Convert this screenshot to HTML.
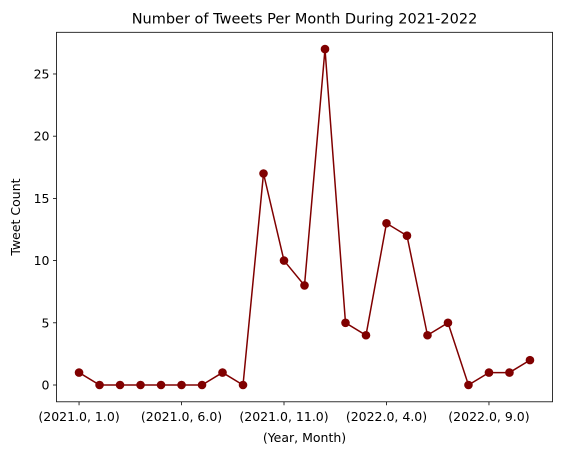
<!DOCTYPE html>
<html><head><meta charset="utf-8"><style>
body{margin:0;background:#fff;}
svg text{font-family:"DejaVu Sans","Liberation Sans",sans-serif;fill:#000;}
</style></head><body>
<svg id="chart" width="562" height="455" xmlns="http://www.w3.org/2000/svg"></svg>
<script>
const counts=[1,0,0,0,0,0,0,1,0,17,10,8,27,5,4,13,12,4,5,0,1,1,2];
const xTickIdx=[0,5,10,15,20];
const xTickLabels=["(2021.0, 1.0)","(2021.0, 6.0)","(2021.0, 11.0)","(2022.0, 4.0)","(2022.0, 9.0)"];
const yTicks=[0,5,10,15,20,25];

const L=56.5,R=552.5,T=32.3,B=401.8;
const xMin=-1.1,xMax=counts.length-1+1.1;
const yMax=Math.max(...counts),yLo=-0.05*yMax,yHi=yMax*1.05;
const xs=i=>L+(i-xMin)/(xMax-xMin)*(R-L);
const ys=v=>B-(v-yLo)/(yHi-yLo)*(B-T);
const svg=document.getElementById('chart');
const NS='http://www.w3.org/2000/svg';
function mk(tag,attrs,parent){const e=document.createElementNS(NS,tag);for(const k in attrs)e.setAttribute(k,attrs[k]);(parent||svg).appendChild(e);return e;}

const frame=mk('rect',{x:L,y:T,width:R-L,height:B-T,fill:'none',stroke:'#000','stroke-width':0.8});



yTicks.forEach(v=>{
  const y=ys(v);
  const t=mk('line',{x1:L-3.5,x2:L,y1:y,y2:y,stroke:'#000','stroke-width':0.8});
  
  
  const l=mk('text',{x:L-7,y:y+4.5,'text-anchor':'end','font-size':12.5});
  l.textContent=v;
  
  
});
xTickIdx.forEach((idx,k)=>{
  const x=xs(idx);
  const t=mk('line',{x1:x,x2:x,y1:B,y2:B+3.5,stroke:'#000','stroke-width':0.8});
  
  
  const l=mk('text',{x:x,y:B+19,'text-anchor':'middle','font-size':12.5});
  l.textContent=xTickLabels[k];
  
  
});

const line=mk('polyline',{points:counts.map((v,i)=>xs(i)+','+ys(v)).join(' '),fill:'none',stroke:'#800000','stroke-width':1.5});


counts.forEach((v,i)=>{
  const c=mk('circle',{cx:xs(i),cy:ys(v),r:4.3,fill:'#800000'});
  
  
});

const title=mk('text',{x:(L+R)/2,y:T-9,'text-anchor':'middle','font-size':14.5});
title.textContent='Number of Tweets Per Month During 2021-2022';


const xt=mk('text',{x:(L+R)/2,y:B+40,'text-anchor':'middle','font-size':12.5});
xt.textContent='(Year, Month)';


const yt=mk('text',{x:0,y:0,'text-anchor':'middle','font-size':12.5,transform:'translate(20,'+((T+B)/2)+') rotate(-90)'});
yt.textContent='Tweet Count';


</script>
</body></html>
